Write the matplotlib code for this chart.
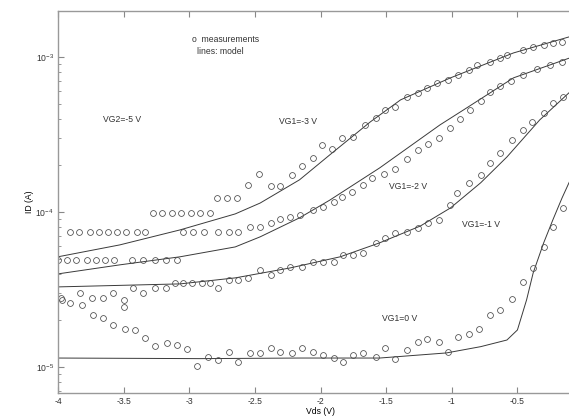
import numpy as np
import matplotlib
matplotlib.use('Agg')
import matplotlib.pyplot as plt

plt.rcParams['font.family'] = ['Liberation Sans', 'DejaVu Sans']
plt.rcParams['mathtext.fontset'] = 'custom'
plt.rcParams['mathtext.rm'] = 'Liberation Sans'

# measurements, VG1 = -3 V
vds_m3 = [-3.91, -3.84, -3.76, -3.69, -3.62, -3.55, -3.48, -3.40, -3.34,
          -3.28, -3.21, -3.13, -3.06, -2.99, -2.92, -2.84,
          -2.79, -2.71, -2.64, -2.55, -2.47, -2.38, -2.31, -2.22, -2.14, -2.06,
          -1.99, -1.91, -1.84, -1.75, -1.66, -1.58, -1.51, -1.43, -1.34, -1.26,
          -1.19, -1.11, -1.03, -0.95, -0.87, -0.81, -0.71, -0.63, -0.58, -0.46,
          -0.38, -0.30, -0.23, -0.16]
id_m3 = [7.4e-5, 7.4e-5, 7.4e-5, 7.4e-5, 7.4e-5, 7.4e-5, 7.4e-5, 7.4e-5, 7.4e-5,
         9.9e-5, 9.9e-5, 9.9e-5, 9.9e-5, 9.9e-5, 9.9e-5, 9.9e-5,
         1.23e-4, 1.23e-4, 1.23e-4, 1.49e-4, 1.76e-4, 1.47e-4, 1.47e-4, 1.73e-4,
         1.98e-4, 2.23e-4, 2.71e-4, 2.55e-4, 3.0e-4, 3.05e-4, 3.64e-4, 4.04e-4,
         4.55e-4, 4.75e-4, 5.52e-4, 5.86e-4, 6.31e-4, 6.8e-4, 7.1e-4, 7.65e-4,
         8.2e-4, 8.9e-4, 9.3e-4, 9.85e-4, 1.03e-3, 1.11e-3, 1.16e-3, 1.19e-3,
         1.23e-3, 1.25e-3]

# measurements, VG1 = -2 V
vds_m2 = [-4.0, -3.93, -3.86, -3.78, -3.71, -3.64, -3.57,
          -3.44, -3.35, -3.26, -3.18, -3.09,
          -3.05, -2.97, -2.89, -2.78, -2.70, -2.63, -2.54, -2.46, -2.38, -2.31,
          -2.23, -2.16, -2.06, -1.98, -1.90, -1.84, -1.76, -1.68, -1.61, -1.52,
          -1.43, -1.34, -1.26, -1.18, -1.10, -1.01, -0.94, -0.86, -0.78, -0.71,
          -0.63, -0.55, -0.46, -0.35, -0.25, -0.16]
id_m2 = [4.9e-5, 4.9e-5, 4.9e-5, 4.9e-5, 4.9e-5, 4.9e-5, 4.9e-5,
         4.9e-5, 4.9e-5, 4.9e-5, 4.9e-5, 4.9e-5,
         7.4e-5, 7.4e-5, 7.4e-5, 7.4e-5, 7.4e-5, 7.4e-5, 8.0e-5, 8.0e-5, 8.5e-5,
         9.0e-5, 9.2e-5, 9.6e-5, 1.03e-4, 1.08e-4, 1.16e-4, 1.25e-4, 1.35e-4,
         1.49e-4, 1.66e-4, 1.75e-4, 1.9e-4, 2.2e-4, 2.5e-4, 2.75e-4, 3.0e-4,
         3.45e-4, 3.95e-4, 4.55e-4, 5.2e-4, 5.9e-4, 6.5e-4, 7.0e-4, 7.6e-4,
         8.3e-4, 8.9e-4, 9.3e-4]

# measurements, VG1 = -1 V
vds_m1 = [-3.98, -3.83, -3.74, -3.66, -3.58, -3.50, -3.43, -3.35, -3.26, -3.18,
          -3.11, -3.05, -2.98, -2.90, -2.84, -2.78, -2.70, -2.63, -2.55, -2.46,
          -2.38, -2.31, -2.23, -2.14, -2.06, -1.98, -1.90, -1.83, -1.75, -1.68,
          -1.58, -1.51, -1.43, -1.34, -1.26, -1.18, -1.10, -1.01, -0.96, -0.87,
          -0.78, -0.71, -0.63, -0.54, -0.46, -0.39, -0.30, -0.23, -0.15]
id_m1 = [2.79e-5, 3.0e-5, 2.79e-5, 2.79e-5, 3.0e-5, 2.71e-5, 3.24e-5, 3.0e-5,
         3.24e-5, 3.24e-5, 3.48e-5, 3.48e-5, 3.48e-5, 3.48e-5, 3.48e-5, 3.24e-5,
         3.64e-5, 3.64e-5, 3.75e-5, 4.22e-5, 3.92e-5, 4.22e-5, 4.42e-5, 4.42e-5,
         4.75e-5, 4.75e-5, 4.75e-5, 5.28e-5, 5.28e-5, 5.44e-5, 6.31e-5, 6.8e-5,
         7.3e-5, 7.4e-5, 7.9e-5, 8.5e-5, 8.9e-5, 1.11e-4, 1.33e-4, 1.54e-4,
         1.73e-4, 2.07e-4, 2.4e-4, 2.91e-4, 3.38e-4, 3.81e-4, 4.35e-4, 5.04e-4,
         5.52e-4]

# measurements, VG1 = 0 V
vds_m0 = [-3.97, -3.91, -3.82, -3.73, -3.66, -3.58, -3.50, -3.49, -3.41, -3.34,
          -3.26, -3.17, -3.09, -3.02, -2.94, -2.86, -2.78, -2.70, -2.63, -2.54,
          -2.46, -2.38, -2.31, -2.22, -2.14, -2.06, -1.98, -1.90, -1.83, -1.75,
          -1.68, -1.58, -1.51, -1.43, -1.34, -1.26, -1.19, -1.10, -1.03, -0.95,
          -0.87, -0.79, -0.71, -0.63, -0.54, -0.46, -0.38, -0.30, -0.23, -0.15]
id_m0 = [2.71e-5, 2.59e-5, 2.51e-5, 2.16e-5, 2.07e-5, 1.87e-5, 2.44e-5, 1.76e-5,
         1.73e-5, 1.54e-5, 1.37e-5, 1.43e-5, 1.39e-5, 1.31e-5, 1.02e-5, 1.16e-5,
         1.11e-5, 1.25e-5, 1.08e-5, 1.23e-5, 1.23e-5, 1.33e-5, 1.25e-5, 1.23e-5,
         1.33e-5, 1.25e-5, 1.19e-5, 1.14e-5, 1.08e-5, 1.19e-5, 1.23e-5, 1.16e-5,
         1.33e-5, 1.13e-5, 1.29e-5, 1.45e-5, 1.52e-5, 1.45e-5, 1.25e-5, 1.56e-5,
         1.63e-5, 1.76e-5, 2.16e-5, 2.33e-5, 2.75e-5, 3.53e-5, 4.35e-5, 5.94e-5,
         8.0e-5, 1.06e-4]

# model lines
vds_l3 = [-4.0, -3.53, -3.07, -2.65, -2.46, -2.16, -1.93, -1.62, -1.39, -1.01, -0.53, -0.10]
id_l3 = [5.13e-5, 6.12e-5, 7.65e-5, 9.7e-5, 1.14e-4, 1.61e-4, 2.33e-4, 3.81e-4,
         5.28e-4, 7.32e-4, 1.06e-3, 1.35e-3]
vds_l2 = [-4.0, -3.53, -3.07, -2.65, -2.46, -2.16, -1.93, -1.55, -1.09, -0.91, -0.53, -0.10]
id_l2 = [3.98e-5, 4.55e-5, 5.13e-5, 5.94e-5, 6.9e-5, 9.15e-5, 1.19e-4, 1.92e-4,
         3.64e-4, 4.55e-4, 7.32e-4, 9.85e-4]
vds_l1 = [-4.0, -3.07, -2.65, -2.23, -1.85, -1.55, -1.24, -1.01, -0.78, -0.58, -0.33, -0.10]
id_l1 = [3.28e-5, 3.43e-5, 3.75e-5, 4.35e-5, 5.13e-5, 6.31e-5, 8.1e-5, 1.06e-4,
         1.54e-4, 2.26e-4, 3.92e-4, 5.94e-4]
vds_l0 = [-4.0, -2.92, -2.16, -1.55, -1.04, -0.78, -0.58, -0.50, -0.43, -0.38,
          -0.30, -0.23, -0.16, -0.08]
id_l0 = [1.14e-5, 1.13e-5, 1.14e-5, 1.14e-5, 1.23e-5, 1.35e-5, 1.49e-5, 1.73e-5,
         2.71e-5, 4.04e-5, 6.31e-5, 8.88e-5, 1.23e-4, 1.73e-4]

fig = plt.figure(figsize=(5.69, 4.18), dpi=100)
ax = fig.add_axes([0.102, 0.06, 0.9227, 0.914])

line_kw = dict(color='#3a3a3a', lw=0.7)
mark_kw = dict(ls='none', marker='o', ms=4.2, mfc='none', mec='#4a4a4a', mew=0.55)

for x, y in [(vds_l3, id_l3), (vds_l2, id_l2), (vds_l1, id_l1), (vds_l0, id_l0)]:
    ax.plot(x, y, **line_kw)
for x, y in [(vds_m3, id_m3), (vds_m2, id_m2), (vds_m1, id_m1), (vds_m0, id_m0)]:
    ax.plot(x, y, **mark_kw)

ax.set_yscale('log')
ax.set_xlim(-4, 0)
ax.set_ylim(6.79e-6, 1.98e-3)
ax.set_xticks([-4, -3.5, -3, -2.5, -2, -1.5, -1, -0.5])
ax.set_xticklabels(['-4', '-3.5', '-3', '-2.5', '-2', '-1.5', '-1', '-0.5'])
ax.set_yticks([1e-5, 1e-4, 1e-3])
ax.set_yticklabels(['$10^{-5}$', '$10^{-4}$', '$10^{-3}$'])
ax.tick_params(which='both', direction='in', top=True, right=True,
               labelsize=6.2, colors='#333333', pad=3)
ax.tick_params(which='major', length=4, color='#888888')
ax.tick_params(which='minor', length=2, color='#888888')
ax.tick_params(axis='x', which='minor', bottom=False, top=False)
for s in ax.spines.values():
    s.set_color('#999999')
    s.set_linewidth(1.0)

ax.set_xlabel('Vds (V)', fontsize=6.2, labelpad=1)
ax.set_ylabel('ID (A)', fontsize=6.2, labelpad=1)

tk = dict(fontsize=6.2, color='#333333', va='center')
ax.text(-2.98, 1.29e-3, 'o  measurements', **tk)
ax.text(-2.94, 1.08e-3, 'lines: model', **tk)
ax.text(-3.66, 3.92e-4, 'VG2=-5 V', **tk)
ax.text(-2.32, 3.81e-4, 'VG1=-3 V', **tk)
ax.text(-1.48, 1.45e-4, 'VG1=-2 V', **tk)
ax.text(-0.92, 8.24e-5, 'VG1=-1 V', **tk)
ax.text(-1.53, 2.04e-5, 'VG1=0 V', **tk)

fig.savefig('out.png', dpi=100)
